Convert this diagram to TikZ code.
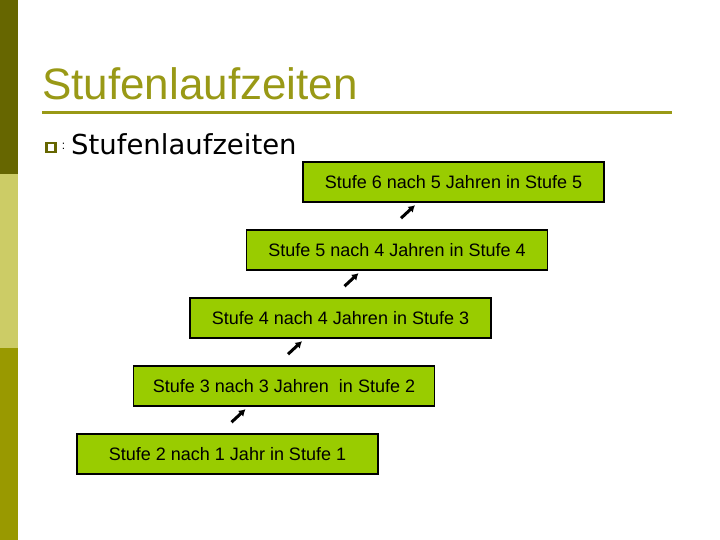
\documentclass[tikz,border=0pt]{standalone}
\usepackage{fontspec}
\setmainfont{Liberation Sans}
\newfontfamily\verdanafont{DejaVu Sans}
\usetikzlibrary{positioning, arrows.meta}
\definecolor{barDark}{HTML}{666600}
\definecolor{barLight}{HTML}{CCCC66}
\definecolor{barOlive}{HTML}{999900}
\definecolor{titleOlive}{HTML}{999916}
\definecolor{stufeGreen}{HTML}{99CC00}
\begin{document}
\begin{tikzpicture}[x=1pt,y=-1pt,
  stufe/.style={rectangle, draw=black, line width=1.6pt, fill=stufeGreen,
  minimum width=301pt, minimum height=40pt, inner sep=0pt,
  font=\fontsize{18}{20}\selectfont},
  uparrow/.style={-{Latex[length=6.5pt,width=8pt]}, line width=3pt}]
  \useasboundingbox (0,0) rectangle (720,540);
  % side bar
  \fill[barDark] (0,0) rectangle (18,174);
  \fill[barLight] (0,174) rectangle (18,348);
  \fill[barOlive] (0,348) rectangle (18,540);

  \node[anchor=base west, inner sep=0pt, text=titleOlive,
    font=\fontsize{44}{48}\selectfont] (title) at (42,100) {Stufenlaufzeiten};
  \draw[titleOlive, line width=3pt] (42,113) -- (672,113);
  \node[draw=barDark, line width=2.6pt, minimum size=9pt, inner sep=0pt] (bullet) at (50.8,147.5) {};
  \node[inner sep=0pt, font=\fontsize{12}{12}\selectfont] (colon) at (63.5,146) {:};
  \node[anchor=base west, inner sep=0pt,
    font=\verdanafont\fontsize{27.5}{30}\selectfont] (sub) at (71,155) {Stufenlaufzeiten};

  \node[stufe] (s6) at (453.5,182) {Stufe 6 nach 5 Jahren in Stufe 5};
  \node[stufe] (s5) [below=26.4pt of s6, xshift=-56.5pt] {Stufe 5 nach 4 Jahren in Stufe 4};
  \node[stufe] (s4) [below=26.4pt of s5, xshift=-56.5pt] {Stufe 4 nach 4 Jahren in Stufe 3};
  \node[stufe] (s3) [below=26.4pt of s4, xshift=-56.5pt] {Stufe 3 nach 3 Jahren~ in Stufe 2};
  \node[stufe] (s2) [below=26.4pt of s3, xshift=-56.5pt] {Stufe 2 nach 1 Jahr in Stufe 1};

  % small arrows between the steps
  \coordinate (t5) at ([xshift=4pt, yshift=11pt]s5.north);
  \coordinate (h5) at ([xshift=18pt, yshift=24pt]s5.north);
  \coordinate (t4) at ([xshift=4pt, yshift=11pt]s4.north);
  \coordinate (h4) at ([xshift=18pt, yshift=24pt]s4.north);
  \coordinate (t3) at ([xshift=4pt, yshift=11pt]s3.north);
  \coordinate (h3) at ([xshift=18pt, yshift=24pt]s3.north);
  \coordinate (t2) at ([xshift=4pt, yshift=11pt]s2.north);
  \coordinate (h2) at ([xshift=18pt, yshift=24pt]s2.north);
  \draw[uparrow] (t5) -- (h5);
  \draw[uparrow] (t4) -- (h4);
  \draw[uparrow] (t3) -- (h3);
  \draw[uparrow] (t2) -- (h2);
\end{tikzpicture}
\end{document}
